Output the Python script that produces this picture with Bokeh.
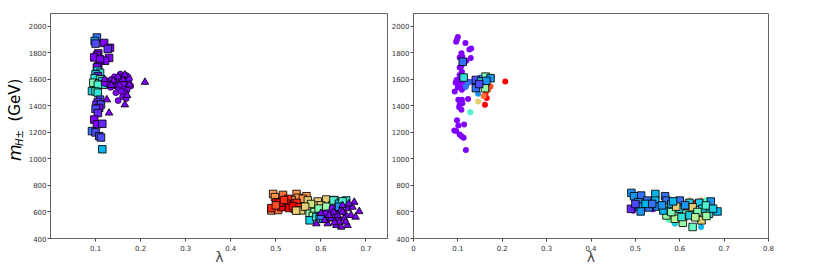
import numpy as np
from bokeh.plotting import figure
from bokeh.layouts import row
from bokeh.models import ColumnDataSource, FixedTicker, Label, Range1d
from bokeh.transform import linear_cmap
from bokeh.embed import file_html
from bokeh.resources import INLINE

# ---------------- data ----------------
# Left panel: coloured squares (x = lambda, y = m_H+- in GeV, c = colour value 0..1)
sqL_x = [0.103, 0.098, 0.100, 0.119, 0.132, 0.127, 0.106, 0.103, 0.097, 0.130, 0.121, 0.110,
         0.106, 0.103, 0.104, 0.110, 0.100, 0.105, 0.098, 0.110, 0.095, 0.108, 0.115, 0.118,
         0.105, 0.092, 0.100, 0.105, 0.110, 0.105, 0.102, 0.112, 0.108, 0.100, 0.105, 0.097,
         0.103, 0.115, 0.092, 0.100, 0.108, 0.112, 0.115,
         0.494, 0.498, 0.516, 0.546, 0.549, 0.568, 0.505, 0.490, 0.505, 0.535, 0.560, 0.520,
         0.501, 0.527, 0.524, 0.542, 0.490, 0.512, 0.530, 0.546, 0.508, 0.518, 0.538, 0.500, 0.553,
         0.571, 0.593, 0.612, 0.586, 0.556, 0.578, 0.600, 0.565, 0.545,
         0.575, 0.586, 0.601, 0.615, 0.608, 0.625, 0.595, 0.612, 0.630, 0.582,
         0.575, 0.590, 0.628, 0.656, 0.640, 0.597, 0.620, 0.648, 0.605,
         0.628, 0.615, 0.640, 0.600]
sqL_y = [1916, 1890, 1870, 1875, 1838, 1830, 1796, 1780, 1766, 1762, 1741, 1750,
         1701, 1690, 1666, 1650, 1640, 1625, 1609, 1600, 1575, 1571, 1585, 1560,
         1560, 1512, 1509, 1500, 1447, 1430, 1409, 1410, 1385, 1378, 1346, 1297,
         1262, 1265, 1210, 1200, 1172, 1162, 1073,
         736, 712, 729, 736, 707, 719, 650, 612, 615, 690, 700, 645,
         674, 699, 662, 624, 629, 637, 630, 669, 670, 690, 645, 650, 635,
         687, 679, 694, 649, 612, 660, 650, 640, 610,
         587, 600, 604, 600, 575, 650, 625, 640, 690, 570,
         537, 562, 687, 687, 662, 550, 560, 680, 548,
         617, 585, 640, 570]
sqL_c = [0.15, 0.2, 0.1, 0.0, 0.0, 0.05, 0.0, 0.0, 0.0, 0.0, 0.0, 0.0,
         0.0, 0.0, 0.3, 0.35, 0.3, 0.05, 0.35, 0.4, 0.5, 0.45, 0.3, 0.35,
         0.4, 0.3, 0.4, 0.35, 0.1, 0.05, 0.05, 0.1, 0.0, 0.1, 0.05, 0.0,
         0.0, 0.05, 0.15, 0.1, 0.1, 0.1, 0.25,
         0.8, 0.8, 0.85, 0.8, 0.8, 0.8, 0.85, 0.8, 0.85, 0.8, 0.8, 0.85,
         1.0, 0.95, 1.0, 1.0, 0.95, 1.0, 1.0, 0.95, 1.0, 0.95, 1.0, 0.9, 0.95,
         0.7, 0.7, 0.7, 0.7, 0.7, 0.65, 0.7, 0.7, 0.7,
         0.55, 0.55, 0.55, 0.5, 0.55, 0.55, 0.5, 0.55, 0.5, 0.55,
         0.3, 0.35, 0.4, 0.35, 0.3, 0.35, 0.3, 0.4, 0.3,
         0.15, 0.15, 0.2, 0.15]

# Left panel: purple circles
cirL_x = [0.125, 0.130, 0.135, 0.140, 0.145, 0.150, 0.155, 0.160, 0.165, 0.170, 0.175, 0.178,
          0.168, 0.172, 0.158, 0.148, 0.152, 0.162, 0.170, 0.166, 0.160, 0.150, 0.145, 0.138,
          0.128, 0.142, 0.133, 0.155, 0.163, 0.175, 0.120, 0.168, 0.157,
          0.620, 0.635, 0.645, 0.655, 0.630, 0.660, 0.610, 0.640, 0.625, 0.650]
cirL_y = [1590, 1575, 1600, 1585, 1565, 1610, 1640, 1620, 1600, 1590, 1565, 1550,
          1630, 1620, 1580, 1545, 1530, 1545, 1520, 1500, 1470, 1440, 1500, 1550,
          1560, 1620, 1540, 1560, 1570, 1600, 1570, 1455, 1510,
          600, 585, 610, 575, 560, 640, 590, 550, 630, 600]

# Left panel: purple triangles
triL_x = [0.2096, 0.130, 0.125, 0.165, 0.175, 0.160, 0.140, 0.150, 0.170, 0.120, 0.135, 0.165,
          0.590, 0.615, 0.645, 0.634, 0.659, 0.674, 0.685, 0.652, 0.637, 0.667, 0.622, 0.659,
          0.648, 0.670, 0.628, 0.618, 0.608, 0.641, 0.655, 0.648, 0.662, 0.677, 0.630, 0.600]
triL_y = [1579, 1347, 1447, 1409, 1560, 1600, 1590, 1620, 1480, 1600, 1555, 1635,
          512, 512, 487, 500, 500, 674, 604, 550, 575, 575, 550, 625,
          600, 637, 600, 575, 537, 525, 525, 650, 662, 562, 520, 590]

# Right panel: coloured circles (no edge)
cirR_x = [0.100, 0.096, 0.098, 0.117, 0.130, 0.126, 0.108, 0.104, 0.110, 0.129, 0.119, 0.108,
          0.104, 0.109, 0.104, 0.110, 0.097, 0.104, 0.112, 0.104, 0.095, 0.118, 0.125, 0.093,
          0.109, 0.100, 0.115, 0.101, 0.109, 0.123, 0.104, 0.110, 0.108, 0.103, 0.098, 0.114,
          0.101, 0.096, 0.092, 0.108, 0.113, 0.104, 0.118, 0.135, 0.140,
          0.122, 0.133, 0.1456, 0.150, 0.118,
          0.128, 0.172, 0.165, 0.1456,
          0.2067, 0.1736, 0.1625, 0.165, 0.161, 0.168, 0.158,
          0.604, 0.622, 0.648, 0.635, 0.615, 0.600, 0.611, 0.640, 0.490, 0.495, 0.589, 0.648,
          0.575, 0.660, 0.630, 0.655, 0.590, 0.620, 0.570, 0.540, 0.665, 0.645]
cirR_y = [1920, 1883, 1900, 1875, 1833, 1825, 1797, 1766, 1770, 1762, 1741, 1701,
          1690, 1658, 1634, 1620, 1596, 1600, 1590, 1559, 1575, 1565, 1580, 1509,
          1521, 1540, 1540, 1447, 1447, 1452, 1409, 1420, 1372, 1390, 1292, 1260,
          1252, 1210, 1215, 1172, 1160, 1185, 1068, 1580, 1600,
          1571, 1584, 1492, 1615, 1545,
          1352, 1626, 1600, 1434,
          1584, 1546, 1497, 1459, 1409, 1520, 1475,
          686, 686, 686, 669, 624, 562, 545, 545, 624, 610, 512, 487,
          540, 690, 600, 640, 600, 650, 600, 620, 560, 610]
cirR_c = [0.0] * 45 + [0.15, 0.15, 0.2, 0.15, 0.15,
                       0.4, 0.5, 0.55, 0.7,
                       1.0, 0.9, 0.95, 1.0, 1.0, 0.9, 0.85,
                       0.9, 0.8, 0.8, 1.0, 1.0, 0.8, 0.85, 0.5, 0.0, 0.0, 0.3, 0.25,
                       0.45, 0.45, 0.9, 0.8, 0.6, 0.85, 0.0, 0.0, 0.5, 0.95]

# Right panel: coloured squares (black edge)
sqR_x = [0.1405, 0.1405, 0.111, 0.113, 0.1625, 0.1736, 0.153, 0.161, 0.164, 0.148,
         0.491, 0.497, 0.513, 0.545, 0.567, 0.506, 0.527, 0.545, 0.490, 0.508, 0.530, 0.549,
         0.523, 0.538, 0.512, 0.570, 0.581, 0.600, 0.622, 0.644, 0.670, 0.685, 0.666, 0.649,
         0.629, 0.607, 0.589, 0.570, 0.563, 0.581, 0.600, 0.615, 0.629, 0.651, 0.659, 0.622,
         0.604, 0.500, 0.560, 0.592, 0.640, 0.660, 0.675, 0.612, 0.585, 0.635]
sqR_y = [1596, 1534, 1733, 1614, 1621, 1609, 1584, 1534, 1589, 1565,
         744, 719, 724, 736, 719, 674, 686, 686, 624, 641, 634, 641,
         661, 661, 604, 686, 661, 686, 669, 669, 679, 604, 587, 537,
         487, 519, 549, 574, 611, 599, 624, 587, 636, 624, 649, 574,
         562, 660, 650, 640, 600, 570, 625, 650, 680, 560]
sqR_c = [0.1, 0.15, 0.15, 0.35, 0.5, 0.2, 0.35, 0.55, 0.2, 0.1,
         0.2, 0.2, 0.15, 0.25, 0.15, 0.2, 0.15, 0.25, 0.05, 0.2, 0.15, 0.2,
         0.25, 0.15, 0.2, 0.15, 0.25, 0.15, 0.3, 0.3, 0.2, 0.25, 0.35, 0.7,
         0.45, 0.55, 0.6, 0.55, 0.25, 0.5, 0.3, 0.45, 0.7, 0.3, 0.4, 0.3,
         0.35, 0.1, 0.2, 0.7, 0.5, 0.55, 0.3, 0.2, 0.25, 0.6]

x_ticks_left = [0.1, 0.2, 0.3, 0.4, 0.5, 0.6, 0.7]
x_ticks_right = [0.0, 0.1, 0.2, 0.3, 0.4, 0.5, 0.6, 0.7, 0.8]
y_ticks = [400, 600, 800, 1000, 1200, 1400, 1600, 1800, 2000]

# ---------------- style ----------------
def _rainbow(t):
    r = min(1.0, abs(2 * t - 0.5))
    g = np.sin(np.pi * t)
    b = np.cos(np.pi * t / 2)
    return "#%02x%02x%02x" % tuple(int(round(255 * max(0.0, min(1.0, v)))) for v in (r, g, b))

PALETTE = [_rainbow(i / 255) for i in range(256)]
PURPLE = _rainbow(0.0)
FONT = "DejaVu Sans"
H = 267
TOP, BOTTOM = 13, 27
YR = Range1d(400, 2097)


def style(p, xticks):
    p.xgrid.visible = False
    p.ygrid.visible = False
    p.outline_line_color = "#666666"
    p.outline_line_width = 1
    for ax in (p.xaxis[0], p.yaxis[0]):
        ax.axis_line_color = "#666666"
        ax.major_tick_line_color = "#444444"
        ax.major_tick_out = 3
        ax.major_tick_in = 0
        ax.minor_tick_out = 0
        ax.minor_tick_in = 0
        ax.major_label_text_font = FONT
        ax.major_label_text_font_size = "7px"
        ax.major_label_text_color = "#333333"
    p.yaxis.major_label_standoff = 1
    p.xaxis.major_label_standoff = 3
    p.xaxis.ticker = FixedTicker(ticks=xticks)
    p.yaxis.ticker = FixedTicker(ticks=y_ticks)
    p.xaxis.axis_label = "λ"
    p.xaxis.axis_label_text_font = FONT
    p.xaxis.axis_label_text_font_style = "normal"
    p.xaxis.axis_label_text_font_size = "14px"
    p.xaxis.axis_label_standoff = -5


# narrow strip carrying the y-axis title  m_{H±} (GeV)
p0 = figure(width=25, height=H, x_range=(0, 1), y_range=YR,
            output_backend="svg", toolbar_location=None,
            x_axis_location=None, y_axis_location=None,
            min_border_left=0, min_border_right=0, min_border_top=TOP, min_border_bottom=BOTTOM)
p0.outline_line_color = None
p0.xgrid.visible = False
p0.ygrid.visible = False
p0.add_layout(Label(x=14, y=985, x_units="screen", y_units="data", text="m", angle=np.pi / 2,
                    text_font=FONT, text_font_style="italic", text_font_size="17px",
                    text_align="left", text_baseline="middle", text_color="black"))
p0.add_layout(Label(x=19, y=1098, x_units="screen", y_units="data", text="H±", angle=np.pi / 2,
                    text_font=FONT, text_font_style="italic", text_font_size="10px",
                    text_align="left", text_baseline="middle", text_color="black"))
p0.add_layout(Label(x=14, y=1282, x_units="screen", y_units="data", text="(GeV)", angle=np.pi / 2,
                    text_font=FONT, text_font_size="15px",
                    text_align="left", text_baseline="middle", text_color="black"))

p1 = figure(width=363, height=H, x_range=(0.0, 0.75), y_range=YR,
            output_backend="svg", toolbar_location=None,
            min_border_left=23, min_border_right=0, min_border_top=TOP, min_border_bottom=BOTTOM)
style(p1, x_ticks_left)

s1 = ColumnDataSource(dict(x=sqL_x, y=sqL_y, c=sqL_c))
p1.scatter("x", "y", source=s1, marker="square", size=7.5,
           fill_color=linear_cmap("c", PALETTE, 0, 1), line_color="black", line_width=1, line_alpha=0.85)
p1.scatter(cirL_x, cirL_y, marker="circle", size=6, fill_color=PURPLE,
           line_color="black", line_width=0.8, line_alpha=0.8)
p1.scatter(triL_x, triL_y, marker="triangle", size=7.5, fill_color=PURPLE,
           line_color="black", line_width=1, line_alpha=0.85)

p2 = figure(width=429, height=H, x_range=(0.0, 0.8), y_range=YR,
            output_backend="svg", toolbar_location=None,
            min_border_left=20, min_border_right=49, min_border_top=TOP, min_border_bottom=BOTTOM)
style(p2, x_ticks_right)

s2c = ColumnDataSource(dict(x=cirR_x, y=cirR_y, c=cirR_c))
p2.scatter("x", "y", source=s2c, marker="circle", size=6,
           fill_color=linear_cmap("c", PALETTE, 0, 1), line_color=None)
s2s = ColumnDataSource(dict(x=sqR_x, y=sqR_y, c=sqR_c))
p2.scatter("x", "y", source=s2s, marker="square", size=7.5,
           fill_color=linear_cmap("c", PALETTE, 0, 1), line_color="black", line_width=1, line_alpha=0.85)

layout = row(p0, p1, p2, spacing=0)
open("out.html", "w").write(file_html(layout, INLINE))
